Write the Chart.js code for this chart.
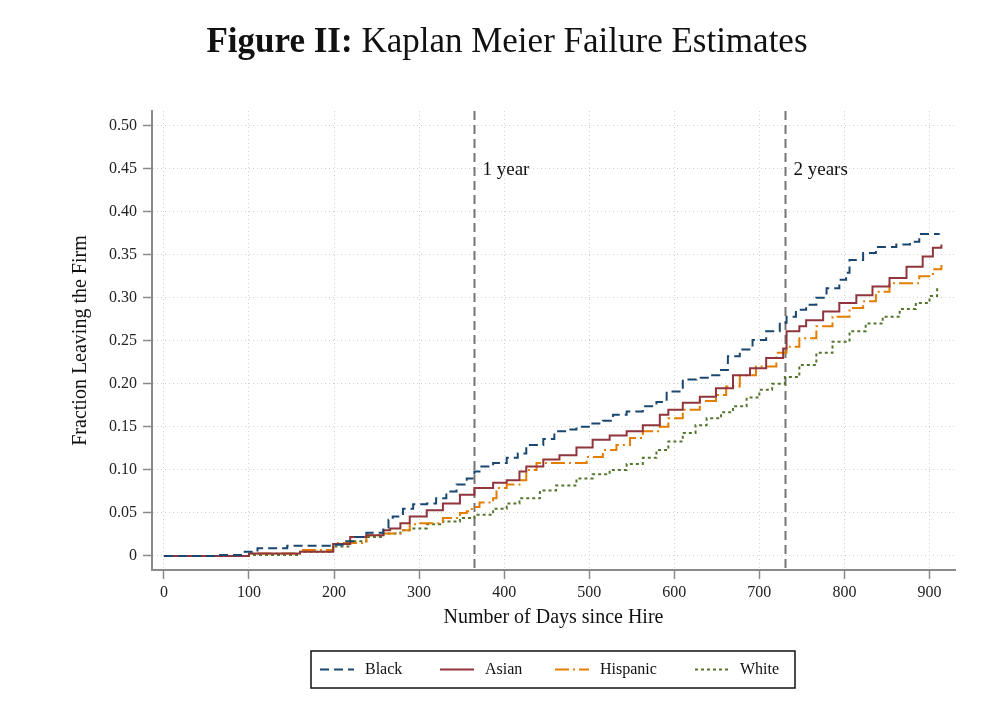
<!DOCTYPE html>
<html>
<head>
<meta charset="utf-8">
<script src="https://cdn.jsdelivr.net/npm/chart.js@4.4.1/dist/chart.umd.min.js"></script>
<style>
  html, body { margin: 0; padding: 0; background: #fff; }
  #wrap { width: 1000px; height: 709px; }
</style>
</head>
<body>
<div id="wrap"><canvas id="km" width="1000" height="709"></canvas></div>
<script>
(function () {
  var SERIF = "'Liberation Serif', 'Times New Roman', serif";

  // axis ticks
  var xTickValues = [0, 100, 200, 300, 400, 500, 600, 700, 800, 900];
  var yTickValues = [0, 0.05, 0.10, 0.15, 0.20, 0.25, 0.30, 0.35, 0.40, 0.45, 0.50];

  // reference lines
  var markerDays = [365, 730];
  var markerLabels = ['1 year', '2 years'];

  // Kaplan-Meier failure estimates
  var blackDays = [0, 60, 95, 110, 145, 195, 210, 225, 238, 258, 264, 269, 281, 293, 309, 320, 332, 344, 356, 365, 371, 387, 403, 416, 426, 446, 459, 473, 485, 501, 516, 528, 544, 563, 579, 591, 610, 626, 642, 653, 663, 677, 692, 708, 724, 732, 743, 755, 767, 779, 794, 802, 806, 822, 837, 861, 877, 888, 912];
  var blackValues = [0, 0.001, 0.005, 0.009, 0.012, 0.013, 0.017, 0.022, 0.027, 0.033, 0.042, 0.046, 0.055, 0.060, 0.061, 0.067, 0.075, 0.083, 0.090, 0.098, 0.104, 0.108, 0.114, 0.119, 0.129, 0.136, 0.145, 0.147, 0.150, 0.154, 0.157, 0.164, 0.168, 0.174, 0.179, 0.191, 0.205, 0.207, 0.210, 0.216, 0.232, 0.240, 0.251, 0.261, 0.271, 0.278, 0.286, 0.292, 0.300, 0.311, 0.321, 0.329, 0.344, 0.352, 0.359, 0.362, 0.365, 0.374, 0.374];

  var asianDays = [0, 100, 160, 199, 219, 238, 258, 266, 278, 289, 309, 328, 348, 365, 387, 403, 418, 426, 446, 465, 485, 504, 524, 544, 563, 583, 593, 610, 630, 649, 669, 689, 708, 728, 732, 747, 755, 775, 794, 814, 833, 853, 873, 892, 904, 914];
  var asianValues = [0, 0.003, 0.005, 0.014, 0.022, 0.024, 0.030, 0.032, 0.038, 0.046, 0.053, 0.061, 0.071, 0.079, 0.085, 0.088, 0.098, 0.104, 0.112, 0.117, 0.126, 0.135, 0.140, 0.145, 0.152, 0.164, 0.170, 0.178, 0.185, 0.195, 0.210, 0.218, 0.230, 0.241, 0.261, 0.267, 0.274, 0.284, 0.294, 0.303, 0.313, 0.323, 0.336, 0.348, 0.358, 0.362];

  var hispanicDays = [0, 100, 160, 199, 238, 258, 278, 289, 300, 328, 348, 356, 362, 371, 387, 391, 403, 418, 426, 438, 497, 516, 532, 548, 563, 583, 593, 610, 630, 649, 661, 677, 696, 720, 732, 747, 767, 786, 806, 822, 837, 853, 880, 888, 904, 914];
  var hispanicValues = [0, 0.003, 0.007, 0.015, 0.024, 0.026, 0.030, 0.037, 0.038, 0.044, 0.050, 0.052, 0.057, 0.062, 0.067, 0.079, 0.083, 0.088, 0.100, 0.108, 0.115, 0.123, 0.129, 0.137, 0.145, 0.150, 0.160, 0.170, 0.180, 0.187, 0.197, 0.210, 0.220, 0.236, 0.243, 0.253, 0.267, 0.278, 0.288, 0.296, 0.307, 0.317, 0.317, 0.325, 0.333, 0.338];

  var whiteDays = [0, 100, 160, 199, 219, 238, 258, 278, 289, 309, 328, 348, 365, 387, 403, 418, 442, 461, 485, 504, 524, 544, 563, 579, 593, 610, 625, 638, 655, 669, 685, 700, 715, 730, 747, 767, 786, 806, 825, 845, 865, 884, 900, 909];
  var whiteValues = [0, 0.001, 0.005, 0.011, 0.017, 0.022, 0.026, 0.030, 0.032, 0.037, 0.040, 0.044, 0.048, 0.055, 0.061, 0.067, 0.076, 0.082, 0.090, 0.095, 0.100, 0.107, 0.114, 0.123, 0.133, 0.143, 0.152, 0.160, 0.167, 0.174, 0.184, 0.193, 0.200, 0.208, 0.222, 0.236, 0.249, 0.261, 0.270, 0.278, 0.287, 0.294, 0.302, 0.311];

  function toPoints(days, values) {
    return days.map(function (d, i) { return { x: d, y: values[i] }; });
  }

  function series(label, days, values, color, dash) {
    return {
      label: label,
      data: toPoints(days, values),
      borderColor: color,
      backgroundColor: color,
      borderDash: dash,
      borderWidth: 2,
      stepped: true,
      pointRadius: 0,
      fill: false
    };
  }

  var titlePlugin = {
    id: 'figTitle',
    afterDraw: function (chart) {
      var ctx = chart.ctx;
      var boldPart = 'Figure II:';
      var restPart = ' Kaplan Meier Failure Estimates';
      ctx.save();
      ctx.fillStyle = '#111';
      ctx.textBaseline = 'alphabetic';
      ctx.font = 'bold 35px ' + SERIF;
      var w1 = ctx.measureText(boldPart).width;
      ctx.font = '35px ' + SERIF;
      var w2 = ctx.measureText(restPart).width;
      var x0 = 507 - (w1 + w2) / 2;
      ctx.textAlign = 'left';
      ctx.font = 'bold 35px ' + SERIF;
      ctx.fillText(boldPart, x0, 52);
      ctx.font = '35px ' + SERIF;
      ctx.fillText(restPart, x0 + w1, 52);
      ctx.restore();
    }
  };

  var markerPlugin = {
    id: 'yearMarkers',
    beforeDatasetsDraw: function (chart) {
      var ctx = chart.ctx;
      var area = chart.chartArea;
      var xs = chart.scales.x;
      ctx.save();
      markerDays.forEach(function (d, i) {
        var px = Math.round(xs.getPixelForValue(d)) + 0.5;
        ctx.strokeStyle = '#757575';
        ctx.lineWidth = 2;
        ctx.setLineDash([9, 5]);
        ctx.beginPath();
        ctx.moveTo(px, area.top);
        ctx.lineTo(px, area.bottom);
        ctx.stroke();
        ctx.fillStyle = '#111';
        ctx.font = '19px ' + SERIF;
        ctx.textAlign = 'left';
        ctx.textBaseline = 'middle';
        ctx.fillText(markerLabels[i], px + 8, area.top + 59);
      });
      ctx.restore();
    }
  };

  var legendPlugin = {
    id: 'boxLegend',
    afterDraw: function (chart) {
      var ctx = chart.ctx;
      var box = { x: 311, y: 651, w: 484, h: 37 };
      var starts = [320, 440, 555, 695];
      ctx.save();
      ctx.fillStyle = '#fff';
      ctx.fillRect(box.x, box.y, box.w, box.h);
      ctx.strokeStyle = '#111';
      ctx.lineWidth = 1.5;
      ctx.setLineDash([]);
      ctx.strokeRect(box.x, box.y, box.w, box.h);
      var cy = box.y + box.h / 2;
      chart.data.datasets.forEach(function (ds, i) {
        var sx = starts[i];
        ctx.strokeStyle = ds.borderColor;
        ctx.lineWidth = 2;
        ctx.setLineDash(ds.borderDash || []);
        ctx.beginPath();
        ctx.moveTo(sx, cy);
        ctx.lineTo(sx + 34, cy);
        ctx.stroke();
        ctx.setLineDash([]);
        ctx.fillStyle = '#111';
        ctx.font = '16px ' + SERIF;
        ctx.textAlign = 'left';
        ctx.textBaseline = 'middle';
        ctx.fillText(ds.label, sx + 45, cy);
      });
      ctx.restore();
    }
  };

  var axisGrey = '#8a8a8a';

  new Chart(document.getElementById('km').getContext('2d'), {
    type: 'line',
    data: {
      datasets: [
        series('Black', blackDays, blackValues, '#1a476f', [9, 5]),
        series('Asian', asianDays, asianValues, '#90353b', []),
        series('Hispanic', hispanicDays, hispanicValues, '#e37e00', [14, 4, 2, 4]),
        series('White', whiteDays, whiteValues, '#55752f', [3, 3])
      ]
    },
    options: {
      responsive: false,
      animation: false,
      devicePixelRatio: 1,
      layout: { padding: { left: 60, right: 45, top: 111, bottom: 69 } },
      plugins: { legend: { display: false }, tooltip: { enabled: false } },
      scales: {
        x: {
          type: 'linear',
          min: -14,
          max: 930,
          afterBuildTicks: function (scale) {
            scale.ticks = xTickValues.map(function (v) { return { value: v }; });
          },
          afterFit: function (scale) { scale.height = 70; },
          grid: { color: '#d2d2d2', lineWidth: 1, tickColor: axisGrey, tickLength: 9, tickWidth: 1.5 },
          border: { color: axisGrey, width: 2, dash: [1, 3] },
          ticks: {
            color: '#222', padding: 4, maxRotation: 0, autoSkip: false,
            font: { family: SERIF, size: 16 },
            callback: function (v) { return String(v); }
          },
          title: {
            display: true, text: 'Number of Days since Hire', color: '#111',
            font: { family: SERIF, size: 20 }, padding: { top: 0, bottom: 10 }
          }
        },
        y: {
          type: 'linear',
          min: -0.0163,
          max: 0.517,
          afterBuildTicks: function (scale) {
            scale.ticks = yTickValues.map(function (v) { return { value: v }; });
          },
          afterFit: function (scale) { scale.width = 92; },
          grid: { color: '#d2d2d2', lineWidth: 1, tickColor: axisGrey, tickLength: 9, tickWidth: 1.5 },
          border: { color: axisGrey, width: 2, dash: [1, 3] },
          ticks: {
            color: '#222', padding: 6, autoSkip: false,
            font: { family: SERIF, size: 16 },
            callback: function (v) { return v === 0 ? '0' : v.toFixed(2); }
          },
          title: {
            display: true, text: 'Fraction Leaving the Firm', color: '#111',
            font: { family: SERIF, size: 20 }, padding: { top: 9, bottom: 0 }
          }
        }
      }
    },
    plugins: [titlePlugin, markerPlugin, legendPlugin]
  });
})();
</script>
</body>
</html>
